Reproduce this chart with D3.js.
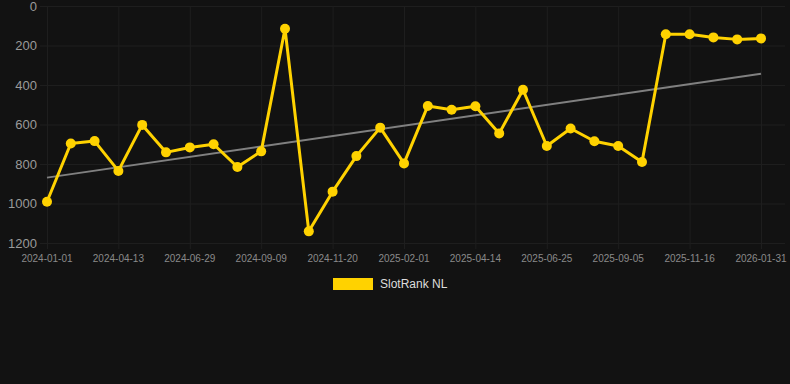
<!DOCTYPE html>
<html>
<head>
<meta charset="utf-8">
<script src="https://cdn.jsdelivr.net/npm/d3@7"></script>
<style>
  body { margin: 0; background: #121212; }
  svg { display: block; font-family: "Liberation Sans", Arial, sans-serif; }
</style>
</head>
<body>
<script>
// point dates (every 3rd one is labelled on the axis)
var dates = [
  "2024-01-01", "2024-02-04", "2024-03-09", "2024-04-13", "2024-05-08", "2024-06-03",
  "2024-06-29", "2024-07-23", "2024-08-16", "2024-09-09", "2024-10-03", "2024-10-27",
  "2024-11-20", "2024-12-14", "2025-01-07", "2025-02-01", "2025-02-24", "2025-03-21",
  "2025-04-14", "2025-05-08", "2025-06-01", "2025-06-25", "2025-07-19", "2025-08-12",
  "2025-09-05", "2025-09-29", "2025-10-23", "2025-11-16", "2025-12-14", "2026-01-06",
  "2026-01-31"
];
var ranks = [
  991, 696, 684, 835, 602, 741, 716, 700, 815, 736, 115, 1141,
  940, 760, 616, 797, 506, 525, 508, 645, 424, 709, 620, 685,
  709, 790, 143, 143, 159, 169, 164
];
var yTicks = [0, 200, 400, 600, 800, 1000, 1200];
var seriesName = "SlotRank NL";

var W = 790, H = 384;
var margin = {left: 47, right: 29, top: 6, bottom: 141};

var svg = d3.select("body").append("svg").attr("width", W).attr("height", H);
svg.append("rect").attr("width", W).attr("height", H).attr("fill", "#121212");

var x = d3.scalePoint().domain(dates).range([margin.left, W - margin.right]);
var y = d3.scaleLinear().domain([0, 1200]).range([margin.top, H - margin.bottom]);

// grid
var grid = svg.append("g");
grid.selectAll(".hg").data(yTicks).enter().append("line")
    .attr("x1", 40).attr("x2", 785)
    .attr("y1", d => y(d) + 0.5).attr("y2", d => y(d) + 0.5)
    .attr("stroke", "#1e1e1e").attr("stroke-width", 1);
var labelled = dates.filter((d, i) => i % 3 === 0);
grid.selectAll(".vg").data(labelled).enter().append("line")
    .attr("x1", d => x(d) + 0.5).attr("x2", d => x(d) + 0.5)
    .attr("y1", margin.top).attr("y2", y(1200) + 6)
    .attr("stroke", "#1e1e1e").attr("stroke-width", 1);

// y axis labels
svg.append("g").selectAll("text").data(yTicks).enter().append("text")
    .attr("x", 37).attr("y", d => y(d)).attr("dy", "0.35em")
    .attr("text-anchor", "end").attr("fill", "#9a9a9a").attr("font-size", 13)
    .text(d => d);

// x axis labels
svg.append("g").selectAll("text").data(labelled).enter().append("text")
    .attr("x", d => x(d)).attr("y", 262)
    .attr("text-anchor", "middle").attr("fill", "#8a8a8a").attr("font-size", 10)
    .text(d => d);

// linear trend (least squares over point index)
var n = ranks.length;
var mx = d3.mean(ranks, (d, i) => i), my = d3.mean(ranks);
var sxy = d3.sum(ranks, (d, i) => (i - mx) * (d - my));
var sxx = d3.sum(ranks, (d, i) => (i - mx) * (i - mx));
var slope = sxy / sxx, icpt = my - slope * mx;
svg.append("line")
    .attr("x1", x(dates[0])).attr("y1", y(icpt))
    .attr("x2", x(dates[n - 1])).attr("y2", y(icpt + slope * (n - 1)))
    .attr("stroke", "#808080").attr("stroke-width", 2);

// series line + points
var line = d3.line().x((d, i) => x(dates[i])).y(d => y(d));
svg.append("path").datum(ranks)
    .attr("d", line).attr("fill", "none")
    .attr("stroke", "#FFD200").attr("stroke-width", 3).attr("stroke-linejoin", "round");
svg.append("g").selectAll("circle").data(ranks).enter().append("circle")
    .attr("cx", (d, i) => x(dates[i])).attr("cy", d => y(d))
    .attr("r", 5).attr("fill", "#FFD200");

// legend
svg.append("rect").attr("x", 333).attr("y", 278).attr("width", 40).attr("height", 12)
    .attr("fill", "#FFD200");
svg.append("text").attr("x", 380).attr("y", 284).attr("dy", "0.35em")
    .attr("fill", "#dddddd").attr("font-size", 12).text(seriesName);
</script>
</body>
</html>
